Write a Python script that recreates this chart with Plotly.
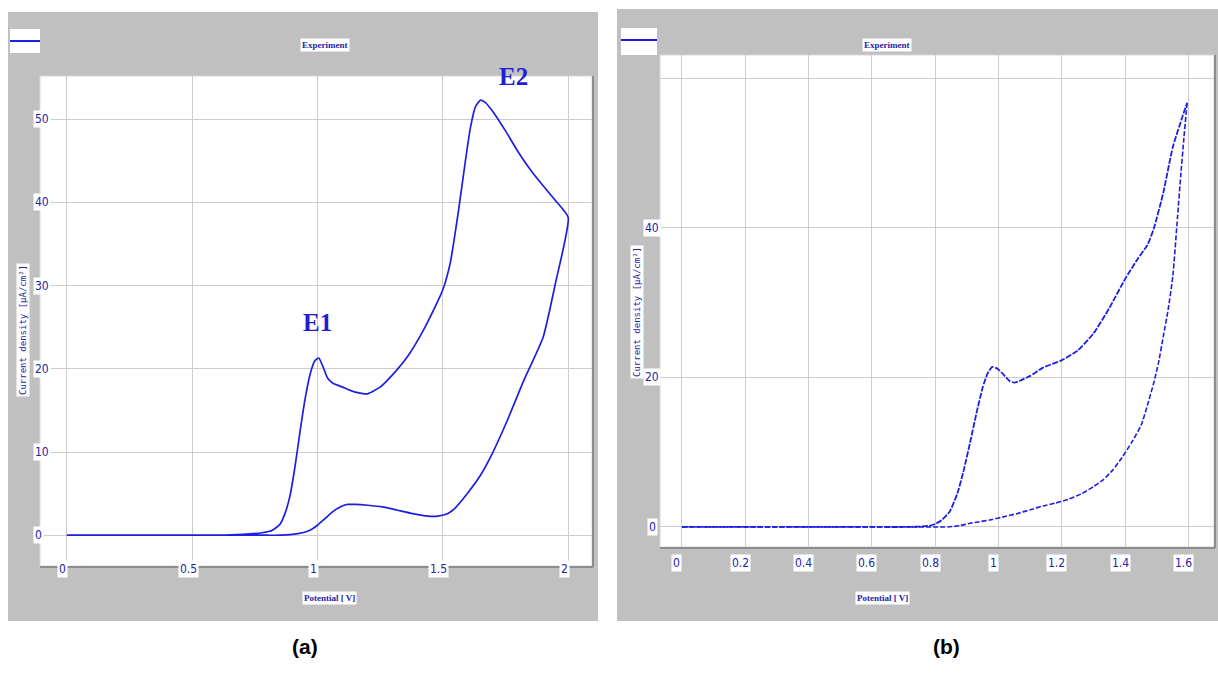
import plotly.graph_objects as go

W, H = 1218, 699

# ---- (a) cyclic voltammogram, 0 -> 2 V ----
a_fwd_v = [0.00, 0.10, 0.20, 0.30, 0.40, 0.50, 0.60, 0.70, 0.78, 0.82, 0.85, 0.87, 0.89, 0.91,
           0.93, 0.95, 0.97, 0.99, 1.005, 1.02, 1.04, 1.06, 1.10, 1.15, 1.20, 1.25, 1.30,
           1.36, 1.42, 1.47, 1.50, 1.53, 1.56, 1.59, 1.61, 1.63, 1.65, 1.67, 1.70, 1.75,
           1.80, 1.85, 1.90, 1.95, 2.00]
a_fwd_j = [0, 0, 0, 0, 0, 0, 0, 0.1, 0.3, 0.6, 1.3, 2.6, 4.7, 8.2,
           12.4, 16.3, 19.3, 21.0, 21.3, 20.4, 18.9, 18.3, 17.8, 17.2, 17.0, 17.8, 19.3,
           21.5, 24.5, 27.5, 29.5, 32.8, 38.5, 45.0, 49.0, 51.5, 52.3, 52.0, 50.9, 48.6,
           46.1, 43.9, 42.0, 40.2, 38.2]
a_rev_v = [2.00, 1.95, 1.90, 1.82, 1.76, 1.70, 1.65, 1.60, 1.55, 1.52, 1.48, 1.44, 1.38,
           1.32, 1.26, 1.20, 1.15, 1.12, 1.09, 1.06, 1.03, 1.00, 0.97, 0.94, 0.90, 0.85,
           0.80, 0.60, 0.40, 0.20, 0.00]
a_rev_j = [38.2, 30.4, 23.8, 18.4, 14.0, 10.0, 7.2, 5.1, 3.3, 2.6, 2.3, 2.3, 2.6,
           3.0, 3.4, 3.6, 3.7, 3.7, 3.4, 2.8, 2.0, 1.2, 0.6, 0.3, 0.1, 0.0,
           0.0, 0.0, 0.0, 0.0, 0.0]

# ---- (b) cyclic voltammogram, 0 -> 1.6 V ----
b_fwd_v = [0.00, 0.10, 0.20, 0.30, 0.40, 0.50, 0.60, 0.70, 0.75, 0.78, 0.80, 0.82, 0.845,
           0.87, 0.89, 0.91, 0.93, 0.95, 0.965, 0.98, 0.995, 1.015, 1.035, 1.05, 1.07,
           1.10, 1.14, 1.20, 1.25, 1.30, 1.35, 1.40, 1.44, 1.47, 1.49, 1.52, 1.55, 1.58, 1.595]
b_fwd_j = [0, 0, 0, 0, 0, 0, 0, 0, 0.05, 0.15, 0.4, 0.9, 2.0,
           4.5, 7.6, 11.3, 15.2, 18.7, 20.5, 21.4, 21.2, 20.4, 19.5, 19.3, 19.6,
           20.2, 21.3, 22.3, 23.6, 25.9, 29.3, 33.2, 35.9, 37.7, 39.9, 44.7, 50.8, 54.8, 56.7]
b_rev_v = [1.595, 1.585, 1.575, 1.565, 1.55, 1.535, 1.52, 1.505, 1.49, 1.47, 1.45, 1.42,
           1.39, 1.36, 1.33, 1.30, 1.26, 1.22, 1.18, 1.14, 1.10, 1.06, 1.02, 0.98, 0.94,
           0.91, 0.88, 0.86, 0.84, 0.70, 0.50, 0.30, 0.10, 0.00]
b_rev_j = [56.7, 52.0, 47.0, 41.5, 33.5, 29.0, 25.5, 22.0, 19.3, 16.3, 13.6, 11.3,
           9.3, 7.6, 6.3, 5.4, 4.4, 3.7, 3.2, 2.8, 2.3, 1.8, 1.4, 1.0, 0.7,
           0.5, 0.2, 0.08, 0.0, 0.0, 0.0, 0.0, 0.0, 0.0]

# axis ticks and labels
a_xticks = [0, 0.5, 1, 1.5, 2]
a_xlabels = ["0", "0.5", "1", "1.5", "2"]
a_yticks = [0, 10, 20, 30, 40, 50]
a_ylabels = ["0", "10", "20", "30", "40", "50"]
b_xticks = [0, 0.2, 0.4, 0.6, 0.8, 1.0, 1.2, 1.4, 1.6]
b_xlabels = ["0", "0.2", "0.4", "0.6", "0.8", "1", "1.2", "1.4", "1.6"]
b_ygrid = [0, 20, 40, 60]
b_yticks = [0, 20, 40]
b_ylabels = ["0", "20", "40"]

panel_title = "Experiment"
x_title = "Potential [ V]"
y_title = "Current density [µA/cm²]"
# peak labels: (text, potential, current, vertical offset in px)
peak_labels = ["E1", "E2"]
peak_pos = [(1.0, 21.3, 36), (1.78, 52.3, 24)]
panel_tags = ["(a)", "(b)"]

LINE = "#1e1ee0"
TXT = "#2424a8"
GRAY = "#c0c0c0"
GRID = "#cccccc"
TICKFONT = dict(family="Liberation Sans Narrow, DejaVu Sans Condensed, sans-serif",
                size=12, color=TXT)
SMALLFONT = dict(family="Liberation Serif, DejaVu Serif Condensed, serif",
                 size=9, color=TXT)


def px(x):
    return x / W


def py(y):
    return 1 - y / H


# pixel frames: gray panel and white plotting area for each chart
a_panel = (8, 12, 598, 621)
a_plot = (40, 76, 592, 566)
b_panel = (617, 9, 1218, 621)
b_plot = (660, 55, 1214, 547)

fig = go.Figure()

fig.add_trace(go.Scatter(x=a_fwd_v + a_rev_v[1:], y=a_fwd_j + a_rev_j[1:],
                         mode="lines", line=dict(color=LINE, width=1.7, shape="spline", smoothing=0.5),
                         xaxis="x", yaxis="y", showlegend=False, hoverinfo="skip"))
fig.add_trace(go.Scatter(x=b_fwd_v, y=b_fwd_j, mode="lines",
                         line=dict(color=LINE, width=1.8, dash="6px,1.5px", shape="spline", smoothing=0.5),
                         xaxis="x2", yaxis="y2", showlegend=False, hoverinfo="skip"))
fig.add_trace(go.Scatter(x=b_rev_v, y=b_rev_j, mode="lines",
                         line=dict(color=LINE, width=1.6, dash="5px,2px", shape="spline", smoothing=0.5),
                         xaxis="x2", yaxis="y2", showlegend=False, hoverinfo="skip"))

shapes = []
annotations = []

for panel, plot in ((a_panel, a_plot), (b_panel, b_plot)):
    shapes.append(dict(type="rect", xref="paper", yref="paper", layer="below",
                       x0=px(panel[0]), x1=px(panel[2]), y0=py(panel[3]), y1=py(panel[1]),
                       fillcolor=GRAY, line=dict(width=0)))
    shapes.append(dict(type="rect", xref="paper", yref="paper", layer="below",
                       x0=px(plot[0]), x1=px(plot[2]), y0=py(plot[3]), y1=py(plot[1]),
                       fillcolor="white", line=dict(color="#d8d8d8", width=1)))
    # darker edge along the right and bottom of the plotting area
    shapes.append(dict(type="line", xref="paper", yref="paper", layer="above",
                       x0=px(plot[0]), x1=px(plot[2] + 1), y0=py(plot[3] + 1), y1=py(plot[3] + 1),
                       line=dict(color="#8c8c8c", width=2)))
    shapes.append(dict(type="line", xref="paper", yref="paper", layer="above",
                       x0=px(plot[2] + 1), x1=px(plot[2] + 1), y0=py(plot[3] + 1), y1=py(plot[1]),
                       line=dict(color="#8c8c8c", width=2)))

# legend swatches in the top-left corner of each panel
for x0, x1, y0, y1, yl in ((10, 40, 29, 53, 41), (621, 657, 28, 55, 40)):
    shapes.append(dict(type="rect", xref="paper", yref="paper",
                       x0=px(x0), x1=px(x1), y0=py(y1), y1=py(y0),
                       fillcolor="white", line=dict(width=0)))
    shapes.append(dict(type="line", xref="paper", yref="paper",
                       x0=px(x0), x1=px(x1), y0=py(yl), y1=py(yl),
                       line=dict(color=LINE, width=2)))

# panel titles and axis titles
for cx, xtx, ytx, yty in ((300, 302, 16, 330), (912, 910, 637, 312)):
    annotations.append(dict(text="<b>%s</b>" % panel_title, x=px(cx), y=py(38), xref="paper", yref="paper",
                            showarrow=False, font=SMALLFONT, bgcolor="white", borderpad=1))
    annotations.append(dict(text="<b>%s</b>" % x_title, x=px(xtx), y=py(605), xref="paper", yref="paper",
                            showarrow=False, font=SMALLFONT, bgcolor="white", borderpad=1))
    annotations.append(dict(text=y_title, x=px(ytx), y=py(yty), xref="paper", yref="paper",
                            showarrow=False,
                            font=dict(family="DejaVu Sans Mono, monospace", size=9, color=TXT),
                            bgcolor="white", borderpad=1, textangle=-90))

# tick labels on white boxes
for v, t in zip(a_xticks, a_xlabels):
    annotations.append(dict(text=t, x=v, xref="x", y=py(578), yref="paper", xshift=-4,
                            showarrow=False, font=TICKFONT, bgcolor="white", borderpad=1))
for v, t in zip(a_yticks, a_ylabels):
    annotations.append(dict(text=t, x=px(33), xref="paper", y=v, yref="y",
                            showarrow=False, font=TICKFONT, bgcolor="white", borderpad=1))
for v, t in zip(b_xticks, b_xlabels):
    annotations.append(dict(text=t, x=v, xref="x2", y=py(572), yref="paper", xshift=-5,
                            showarrow=False, font=TICKFONT, bgcolor="white", borderpad=1))
for v, t in zip(b_yticks, b_ylabels):
    annotations.append(dict(text=t, x=px(652), xref="paper", y=v, yref="y2",
                            showarrow=False, font=TICKFONT, bgcolor="white", borderpad=1))

# peak labels, placed above the peaks they name
for t, (vx, vy, dy) in zip(peak_labels, peak_pos):
    annotations.append(dict(text="<b>%s</b>" % t, x=vx, y=vy, xref="x", yref="y", yshift=dy,
                            showarrow=False,
                            font=dict(family="Liberation Serif, Times New Roman, serif",
                                      size=25, color="#1e1ed0")))

# sub-figure tags
for t, cx in zip(panel_tags, (290, 962)):
    annotations.append(dict(text="<b>%s</b>" % t, x=px(cx), y=py(660), xref="paper", yref="paper",
                            showarrow=False,
                            font=dict(family="Liberation Sans, Arial, sans-serif", size=21, color="black")))

axis_common = dict(showticklabels=False, showgrid=True, gridcolor=GRID, gridwidth=1,
                   zeroline=False, showline=False, ticks="", fixedrange=True)

fig.update_layout(
    width=W, height=H,
    margin=dict(l=0, r=0, t=0, b=0),
    paper_bgcolor="white",
    plot_bgcolor="rgba(0,0,0,0)",
    shapes=shapes,
    annotations=annotations,
    xaxis=dict(domain=[px(a_plot[0]), px(a_plot[2])], range=[-0.107, 2.095],
               tickvals=a_xticks, anchor="y", **axis_common),
    yaxis=dict(domain=[py(a_plot[3]), py(a_plot[1])], range=[-3.7, 55.2],
               tickvals=a_yticks, anchor="x", **axis_common),
    xaxis2=dict(domain=[px(b_plot[0]), px(b_plot[2])], range=[-0.069, 1.68],
                tickvals=b_xticks, anchor="y2", **axis_common),
    yaxis2=dict(domain=[py(b_plot[3]), py(b_plot[1])], range=[-2.68, 63.1],
                tickvals=b_ygrid, anchor="x2", **axis_common),
)

fig.write_html("out.html")
